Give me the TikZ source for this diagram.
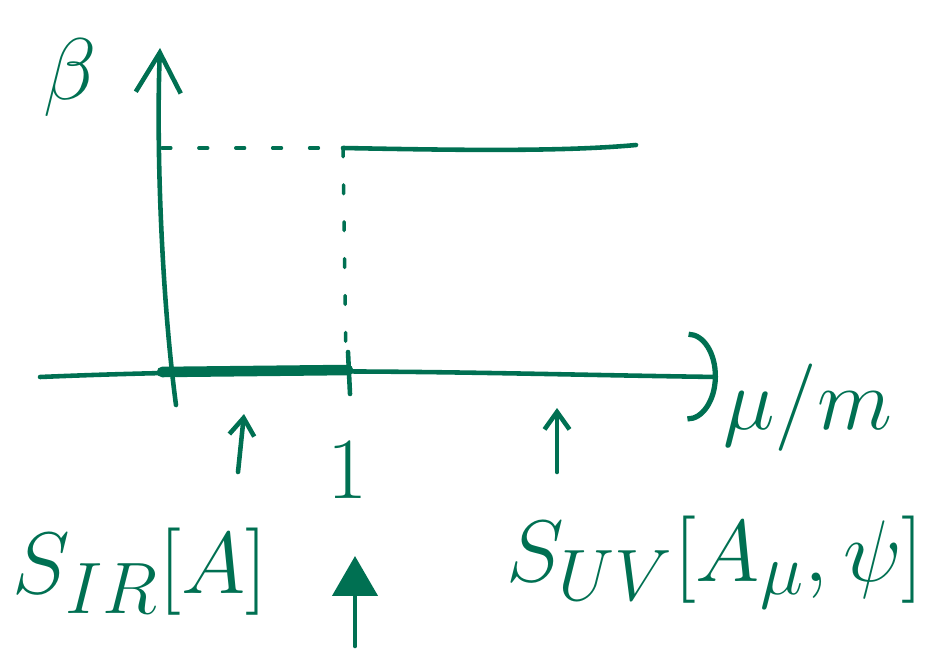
\documentclass[tikz,border=0pt]{standalone}
\usetikzlibrary{arrows.meta,positioning}
\definecolor{ink}{RGB}{0,112,82}
\tikzset{
  pen/.style={draw=ink,line width=2.6pt,line cap=round},
  boldpen/.style={draw=ink,line width=6pt,line cap=round},
  dashpen/.style={draw=ink,line width=2pt,line cap=round,dash pattern=on 5pt off 16pt},
  lbl/.style={text=ink,inner sep=0pt,font=\Huge,scale=2},
  fl/.style={pen,-{Straight Barb[length=3.5mm,width=5mm]}},
  bigfl/.style={pen,-{Triangle[length=8mm,width=9mm,fill=ink]}}
}

\begin{document}
\begin{tikzpicture}[x=0.02cm,y=-0.02cm]
  \useasboundingbox (0,0) rectangle (945,648);
  % axes
  \coordinate (xl) at (40,377);
  \coordinate (xr) at (718,377);
  \coordinate (yb) at (176,405);
  \coordinate (yt) at (160,48);
  \draw[pen,-{Arc Barb[length=6mm,width=18mm,line width=3pt]}] (xl) .. controls (300,366) and (500,374) .. (xr);
  \draw[pen,-{Straight Barb[length=8mm,width=9mm]}] (yb) .. controls (162,300) and (156,150) .. (yt);
  \node[lbl] (beta) at (70,78) {$\beta$};
  \node[lbl] (mu) at (808,408) {$\mu/m$};
  % step
  \coordinate (s0) at (162,372);
  \coordinate (s1) at (348,370);
  \draw[boldpen] (s0) -- (s1);
  \draw[pen] (348,352) -- (350,394);
  \coordinate (c0) at (162,148);
  \coordinate (c1) at (343,148);
  \coordinate (c2) at (636,145);
  \draw[dashpen] (c0) -- (c1);
  \draw[dashpen] (c1) -- (346,362);
  \draw[pen] (c1) .. controls (450,150) and (560,152) .. (c2);
  % labels
  \node[lbl] (one) at (348,470) {$1$};
  \node[lbl] (sir) at (140,572) {$S_{IR}[A]$};
  \node[lbl] (suv) at (715,562) {$S_{UV}[A_\mu,\psi]$};
  \coordinate (a1) at (238,472);
  \coordinate (a1t) at (244,414);
  \coordinate (a2) at (557,472);
  \coordinate (a2t) at (557,408);
  \coordinate (a3) at (355,646);
  \coordinate (a3t) at (355,556);
  \draw[fl] (a1) -- (a1t);
  \draw[fl] (a2) -- (a2t);
  \draw[bigfl] (a3) -- (a3t);
\end{tikzpicture}
\end{document}
